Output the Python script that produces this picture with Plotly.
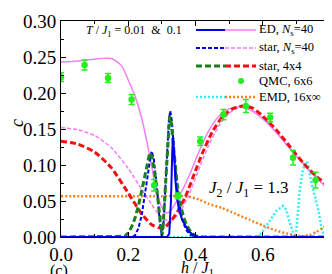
import plotly.graph_objects as go

# ---------------- data ----------------
# ED, Ns=40, T=0.01 (blue solid)
ed_lo_h = [0.0, 0.30, 0.316, 0.322, 0.327, 0.331, 0.333, 0.336, 0.34, 0.345, 0.35, 0.36, 0.37, 0.38, 0.39, 0.40, 0.41, 0.8]
ed_lo_c = [0.0, 0.0, 0.0, 0.005, 0.05, 0.12, 0.14, 0.12, 0.08, 0.055, 0.04, 0.024, 0.015, 0.008, 0.004, 0.001, 0.0, 0.0]

# ED, Ns=40, T=0.1 (pink solid)
ed_hi_h = [0.0, 0.04, 0.08, 0.12, 0.15, 0.18, 0.20, 0.22, 0.24, 0.26, 0.28, 0.29, 0.30, 0.31, 0.32, 0.33, 0.35, 0.38, 0.41, 0.44, 0.47, 0.50, 0.53, 0.56, 0.60, 0.64, 0.68, 0.72, 0.76, 0.80]
ed_hi_c = [0.243, 0.244, 0.246, 0.248, 0.248, 0.238, 0.218, 0.196, 0.165, 0.122, 0.073, 0.054, 0.041, 0.034, 0.034, 0.039, 0.055, 0.084, 0.118, 0.148, 0.168, 0.178, 0.181, 0.177, 0.164, 0.145, 0.123, 0.102, 0.082, 0.064]

# star, Ns=40, T=0.01 (blue dashed)
st40_lo_h = [0.0, 0.21, 0.22, 0.23, 0.24, 0.25, 0.26, 0.266, 0.27, 0.276, 0.285, 0.293, 0.30, 0.305, 0.31, 0.316, 0.321, 0.325, 0.33, 0.337, 0.345, 0.355, 0.365, 0.375, 0.385, 0.395, 0.41, 0.8]
st40_lo_c = [0.0, 0.0, 0.002, 0.012, 0.03, 0.058, 0.092, 0.112, 0.119, 0.108, 0.07, 0.025, 0.001, 0.02, 0.06, 0.12, 0.163, 0.175, 0.16, 0.115, 0.07, 0.037, 0.018, 0.008, 0.003, 0.001, 0.0, 0.0]

# star, Ns=40, T=0.1 (pink dashed)
st40_hi_h = [0.0, 0.05, 0.10, 0.15, 0.20, 0.24, 0.27, 0.29, 0.31, 0.32, 0.33, 0.35, 0.38, 0.41, 0.44, 0.47, 0.50, 0.53, 0.56, 0.60, 0.64, 0.68, 0.72, 0.76, 0.80]
st40_hi_c = [0.152, 0.149, 0.141, 0.124, 0.095, 0.066, 0.045, 0.032, 0.024, 0.022, 0.023, 0.032, 0.058, 0.094, 0.128, 0.155, 0.172, 0.180, 0.178, 0.166, 0.146, 0.124, 0.103, 0.083, 0.065]

# star, 4x4, T=0.01 (green dashed)
st44_lo_h = [0.0, 0.18, 0.19, 0.20, 0.21, 0.22, 0.23, 0.24, 0.25, 0.257, 0.264, 0.27, 0.28, 0.29, 0.297, 0.30, 0.303, 0.308, 0.313, 0.318, 0.323, 0.328, 0.335, 0.345, 0.355, 0.365, 0.375, 0.385, 0.395, 0.405, 0.42, 0.8]
st44_lo_c = [0.0, 0.0, 0.001, 0.006, 0.014, 0.026, 0.043, 0.064, 0.088, 0.105, 0.117, 0.112, 0.085, 0.045, 0.012, 0.002, 0.01, 0.05, 0.10, 0.145, 0.168, 0.158, 0.12, 0.075, 0.045, 0.027, 0.015, 0.008, 0.003, 0.001, 0.0, 0.0]

# star, 4x4, T=0.1 (red dashed)
st44_hi_h = [0.0, 0.05, 0.10, 0.15, 0.20, 0.24, 0.27, 0.29, 0.31, 0.33, 0.35, 0.37, 0.40, 0.42, 0.45, 0.48, 0.51, 0.54, 0.57, 0.60, 0.64, 0.68, 0.72, 0.76, 0.80]
st44_hi_c = [0.133, 0.129, 0.118, 0.096, 0.061, 0.032, 0.017, 0.013, 0.014, 0.024, 0.038, 0.056, 0.092, 0.116, 0.146, 0.167, 0.178, 0.182, 0.179, 0.168, 0.149, 0.126, 0.103, 0.084, 0.070]

# QMC, 6x6
qmc_h = [0.0, 0.07, 0.14, 0.21, 0.277, 0.347, 0.414, 0.483, 0.55, 0.622, 0.69, 0.757]
qmc_c = [0.222, 0.239, 0.221, 0.191, 0.072, 0.057, 0.133, 0.170, 0.182, 0.166, 0.110, 0.079]
qmc_err = [0.006, 0.007, 0.006, 0.007, 0.008, 0.004, 0.006, 0.007, 0.009, 0.006, 0.010, 0.011]

# EMD, 16x inf, T=0.01 (cyan dotted)
emd_lo_h = [0.0, 0.586, 0.60, 0.62, 0.64, 0.66, 0.67, 0.68, 0.69, 0.695, 0.70, 0.71, 0.72, 0.732, 0.745, 0.764, 0.775, 0.784, 0.8]
emd_lo_c = [0.0, 0.0, 0.008, 0.022, 0.036, 0.043, 0.038, 0.02, 0.005, 0.0, 0.01, 0.064, 0.095, 0.105, 0.075, 0.04, 0.012, 0.0, 0.0]

# EMD, 16x inf, T=0.1 (orange dotted)
emd_hi_h = [0.0, 0.10, 0.20, 0.30, 0.35, 0.38, 0.41, 0.44, 0.48, 0.52, 0.56, 0.60, 0.64, 0.67, 0.70, 0.72, 0.74, 0.76, 0.78, 0.80]
emd_hi_c = [0.0565, 0.0565, 0.0565, 0.0565, 0.057, 0.056, 0.052, 0.046, 0.040, 0.032, 0.024, 0.016, 0.009, 0.005, 0.002, 0.001, 0.003, 0.007, 0.013, 0.021]

x_ticks = [0.0, 0.2, 0.4, 0.6, 0.8]
y_ticks = [0.00, 0.05, 0.10, 0.15, 0.20, 0.25, 0.30]

legend_labels = ["ED, <i>N</i><sub>s</sub>=40", "star, <i>N</i><sub>s</sub>=40", "star, 4x4", "QMC, 6x6", "EMD, 16x\u221e"]

# ---------------- styles ----------------
BLUE = "#0000ee"
PINK = "#f47ff4"
GREEN = "#1a801a"
RED = "#ee1111"
QMCG = "#22ee22"
CYAN = "#33eef5"
ORANGE = "#f58220"
FONT = "Liberation Serif"

fig = go.Figure()

def line(x, y, color, width, dash="solid", shape="linear"):
    fig.add_trace(go.Scatter(x=x, y=y, mode="lines",
                             line=dict(color=color, width=width, dash=dash, shape=shape, smoothing=0.6),
                             showlegend=False, hoverinfo="skip"))

line(emd_lo_h, emd_lo_c, CYAN, 2.5, "2px,2px")
line(emd_hi_h, emd_hi_c, ORANGE, 2.5, "2px,2px", "spline")
line(ed_hi_h, ed_hi_c, PINK, 1.5, "solid", "spline")
line(st40_hi_h, st40_hi_c, PINK, 1.5, "4px,2px", "spline")
line(st44_hi_h, st44_hi_c, RED, 3, "6px,3px", "spline")
line(st40_lo_h, st40_lo_c, BLUE, 2, "4px,2px")
line(st44_lo_h, st44_lo_c, GREEN, 3, "6px,3px")
line(ed_lo_h, ed_lo_c, BLUE, 2)

fig.add_trace(go.Scatter(x=qmc_h, y=qmc_c, mode="markers",
                         marker=dict(color=QMCG, size=6.5),
                         error_y=dict(type="data", array=qmc_err, color=QMCG, thickness=1.5, width=3),
                         showlegend=False, hoverinfo="skip"))

# ---------------- layout ----------------
W, H = 332, 274
SL, SR, ST, SB = 53, 322, 13, 229      # plot area in pixels
L, T, R, B = SL, ST, W - SR, H - SB
pw, ph = SR - SL, SB - ST

def px2paper(px, py):
    return (px - SL) / pw, (SB - py) / ph

axis_common = dict(showline=True, linecolor="black", linewidth=1, mirror="allticks",
                   ticks="inside", tickcolor="black", ticklen=5, tickwidth=1,
                   showgrid=False, zeroline=False, automargin=False,
                   tickfont=dict(family=FONT, size=19, color="black"))

fig.update_xaxes(range=[0, 0.8], tickvals=x_ticks, ticktext=[f"{v:.1f}" for v in x_ticks],
                 minor=dict(ticks="inside", dtick=0.1, ticklen=3, tickcolor="black", showgrid=False),
                 **axis_common)
fig.update_yaxes(range=[0, 0.30], tickvals=y_ticks, ticktext=[f"{v:.2f}" for v in y_ticks],
                 minor=dict(ticks="inside", dtick=0.025, ticklen=3, tickcolor="black", showgrid=False),
                 **axis_common)

annotations = []
def text(px, py, s, size, xanchor="left", angle=0):
    x, y = px2paper(px, py)
    annotations.append(dict(x=x, y=y, xref="paper", yref="paper", text=s, showarrow=False,
                            xanchor=xanchor, yanchor="middle", textangle=angle,
                            font=dict(family=FONT, size=size, color="black")))

text(9, 115, "<i>c</i>", 18, "center", -90)
text(189, 260, "<i>h</i> / <i>J</i><sub>1</sub>", 16, "center")
text(51, 263, "(c)", 16, "center")
text(76, 23, "<i>T</i> / <i>J</i><sub>1</sub> = 0.01  &amp;  0.1", 12)
text(199, 181, "<i>J</i><sub>2</sub> / <i>J</i><sub>1</sub> = 1.3", 17)

shapes = []
rows = [22, 40, 58, 73, 89]
pairs = [((BLUE, 2, "solid"), (PINK, 1.5, "solid")),
         ((BLUE, 2, "4px,2px"), (PINK, 1.5, "4px,2px")),
         ((GREEN, 3, "6px,3px"), (RED, 3, "6px,3px")),
         None,
         ((CYAN, 2.5, "2px,2px"), (ORANGE, 2.5, "2px,2px"))]
for py, pair, lab in zip(rows, pairs, legend_labels):
    if pair is not None:
        for (x0, x1), (col, wd, ds) in zip([(188, 217), (217, 248)], pair):
            a0, b0 = px2paper(x0, py)
            a1, _ = px2paper(x1, py)
            shapes.append(dict(type="line", xref="paper", yref="paper", x0=a0, x1=a1, y0=b0, y1=b0,
                               line=dict(color=col, width=wd, dash=ds)))
    else:
        c0 = px2paper(230, py - 3)
        c1 = px2paper(236, py + 3)
        shapes.append(dict(type="circle", xref="paper", yref="paper", x0=c0[0], x1=c1[0], y0=c1[1], y1=c0[1],
                           fillcolor=QMCG, line=dict(color=QMCG, width=0)))
    text(249, py, lab, 12.5)

fig.update_layout(width=W, height=H, margin=dict(l=L, r=R, t=T, b=B, pad=0),
                  paper_bgcolor="white", plot_bgcolor="white",
                  annotations=annotations, shapes=shapes)

fig.write_html("out.html")
